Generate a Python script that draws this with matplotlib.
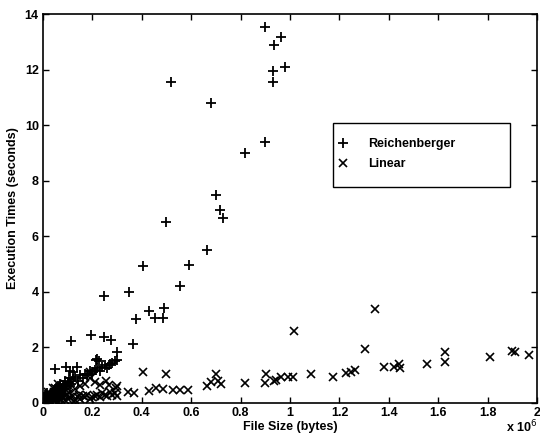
import matplotlib
matplotlib.use('Agg')
import matplotlib.pyplot as plt
from matplotlib.patches import Rectangle

plt.rcParams['font.family'] = ['Liberation Sans', 'DejaVu Sans']

# file sizes in units of 10^6 bytes, execution times in seconds
reich_size = [0.897, 0.962, 0.937, 0.978, 0.931, 0.933, 0.52, 0.682, 0.897, 0.816,
              0.699, 0.718, 0.729, 0.497, 0.664, 0.405, 0.591, 0.556, 0.246, 0.349,
              0.428, 0.378, 0.453, 0.484, 0.489, 0.365, 0.113, 0.195, 0.249, 0.275,
              0.298, 0.267, 0.048, 0.092, 0.109, 0.139, 0.215, 0.22, 0.225, 0.12,
              0.2, 0.005, 0.01, 0.015, 0.02, 0.025, 0.03, 0.035, 0.04, 0.045,
              0.05, 0.055, 0.06, 0.065, 0.07, 0.075, 0.08, 0.085, 0.09, 0.1,
              0.105, 0.11, 0.12, 0.13, 0.14, 0.15, 0.16, 0.17, 0.18, 0.19,
              0.2, 0.21, 0.22, 0.23, 0.24, 0.25, 0.26, 0.27, 0.28, 0.29,
              0.3, 0.0, 0.005, 0.01, 0.02, 0.03, 0.04, 0.05, 0.06, 0.07, 0.08,
              0.012, 0.018, 0.028, 0.038, 0.048, 0.058, 0.068, 0.078, 0.095, 0.115]
reich_time = [13.53, 13.17, 12.89, 12.11, 11.94, 11.55, 11.55, 10.79, 9.39, 8.98,
              7.48, 6.95, 6.66, 6.51, 5.52, 4.92, 4.95, 4.21, 3.85, 4.01,
              3.31, 3.03, 3.06, 3.06, 3.42, 2.12, 2.24, 2.44, 2.36, 2.26,
              1.82, 1.36, 1.24, 1.30, 1.16, 1.30, 1.55, 1.6, 1.5, 1.1,
              1.05, 0.05, 0.1, 0.15, 0.2, 0.12, 0.3, 0.25, 0.4, 0.35,
              0.5, 0.3, 0.6, 0.45, 0.7, 0.5, 0.65, 0.55, 0.8, 0.75,
              0.9, 0.6, 0.85, 0.95, 0.8, 1.0, 0.9, 1.05, 1.0, 1.15,
              1.1, 1.2, 1.25, 1.15, 1.3, 1.35, 1.25, 1.4, 1.45, 1.5,
              1.55, 0.0, 0.2, 0.3, 0.05, 0.1, 0.15, 0.2, 0.1, 0.25, 0.3,
              0.25, 0.35, 0.2, 0.3, 0.4, 0.45, 0.35, 0.45, 0.6, 0.7]

lin_size = [1.344, 1.015, 1.304, 1.627, 1.627, 1.811, 1.90, 1.911, 1.968, 1.554,
            1.382, 1.422, 1.44, 1.446, 1.227, 1.261, 1.247, 1.173, 1.086, 1.014,
            0.991, 0.964, 0.937, 0.944, 0.901, 0.897, 0.819, 0.664, 0.681, 0.699,
            0.71, 0.72, 0.405, 0.497, 0.368, 0.345, 0.43, 0.457, 0.486, 0.525,
            0.555, 0.585, 0.0, 0.005, 0.01, 0.015, 0.02, 0.025, 0.03, 0.035,
            0.04, 0.045, 0.05, 0.055, 0.06, 0.065, 0.07, 0.075, 0.08, 0.085,
            0.09, 0.095, 0.1, 0.11, 0.12, 0.13, 0.14, 0.15, 0.16, 0.17,
            0.18, 0.19, 0.2, 0.21, 0.22, 0.23, 0.24, 0.25, 0.26, 0.27,
            0.28, 0.29, 0.3, 0.13, 0.15, 0.17, 0.19, 0.189, 0.21, 0.23,
            0.255, 0.269, 0.296, 0.30, 0.06, 0.08, 0.1, 0.11, 0.05, 0.02, 0.04,
            0.008, 0.022, 0.032, 0.042, 0.052, 0.062, 0.072, 0.105, 0.125, 0.145]
lin_time = [3.39, 2.60, 1.94, 1.82, 1.48, 1.66, 1.88, 1.84, 1.72, 1.42,
            1.30, 1.28, 1.40, 1.27, 1.07, 1.18, 1.11, 0.94, 1.03, 0.94,
            0.94, 0.94, 0.80, 0.83, 1.04, 0.73, 0.73, 0.61, 0.76, 1.04,
            0.8, 0.68, 1.11, 1.03, 0.37, 0.41, 0.43, 0.55, 0.49, 0.46,
            0.46, 0.47, 0.0, 0.05, 0.1, 0.2, 0.15, 0.3, 0.05, 0.25,
            0.2, 0.4, 0.1, 0.3, 0.35, 0.15, 0.45, 0.25, 0.2, 0.4,
            0.1, 0.3, 0.15, 0.2, 0.25, 0.1, 0.2, 0.15, 0.25, 0.2,
            0.3, 0.15, 0.2, 0.25, 0.3, 0.2, 0.35, 0.3, 0.25, 0.4,
            0.3, 0.35, 0.25, 0.5, 0.6, 0.7, 0.9, 1.12, 0.75, 0.65,
            0.79, 0.65, 0.53, 0.61, 0.7, 0.6, 0.5, 0.8, 0.55, 0.4, 0.55,
            0.15, 0.1, 0.2, 0.1, 0.25, 0.05, 0.1, 0.35, 0.05, 0.3]

fig = plt.figure(figsize=(5.4, 4.41), dpi=100)
ax = fig.add_axes([0.0796, 0.0862, 0.915, 0.882])

ax.plot(reich_size, reich_time, '+', color='black', markersize=7, markeredgewidth=1.3,
        label='Reichenberger')
ax.plot(lin_size, lin_time, 'x', color='black', markersize=5.5, markeredgewidth=1.2,
        label='Linear')

ax.set_xlim(0, 2)
ax.set_ylim(0, 14)
ax.set_xticks([0, 0.2, 0.4, 0.6, 0.8, 1, 1.2, 1.4, 1.6, 1.8, 2])
ax.set_xticklabels(['0', '0.2', '0.4', '0.6', '0.8', '1', '1.2', '1.4', '1.6', '1.8', '2'])
ax.set_yticks(range(0, 15, 2))
ax.tick_params(direction='in', top=True, right=True, length=4, width=1,
               labelsize=9, pad=3)
for lab in ax.get_xticklabels() + ax.get_yticklabels():
    lab.set_fontweight('bold')
for sp in ax.spines.values():
    sp.set_linewidth(1.2)

ax.set_xlabel('File Size (bytes)', fontsize=9, fontweight='bold', labelpad=1)
ax.set_ylabel('Execution Times (seconds)', fontsize=9, fontweight='bold', labelpad=4)
ax.text(1.0, -0.062, r'x 10$^6$', transform=ax.transAxes, ha='right', va='center',
        fontsize=9, fontweight='bold')

# legend box is wider than its contents in the original, so draw it separately
ax.add_patch(Rectangle((0.587, 0.555), 0.358, 0.165, transform=ax.transAxes,
                       facecolor='white', edgecolor='black', linewidth=1.0, zorder=4))
leg = ax.legend(loc='upper left', bbox_to_anchor=(0.595, 0.68), fontsize=9,
                frameon=False, handlelength=1.0, handletextpad=1.5,
                borderpad=0, labelspacing=0.6, borderaxespad=0)
leg.set_zorder(5)
for t in leg.get_texts():
    t.set_fontweight('bold')

fig.savefig('out.png', dpi=100)
